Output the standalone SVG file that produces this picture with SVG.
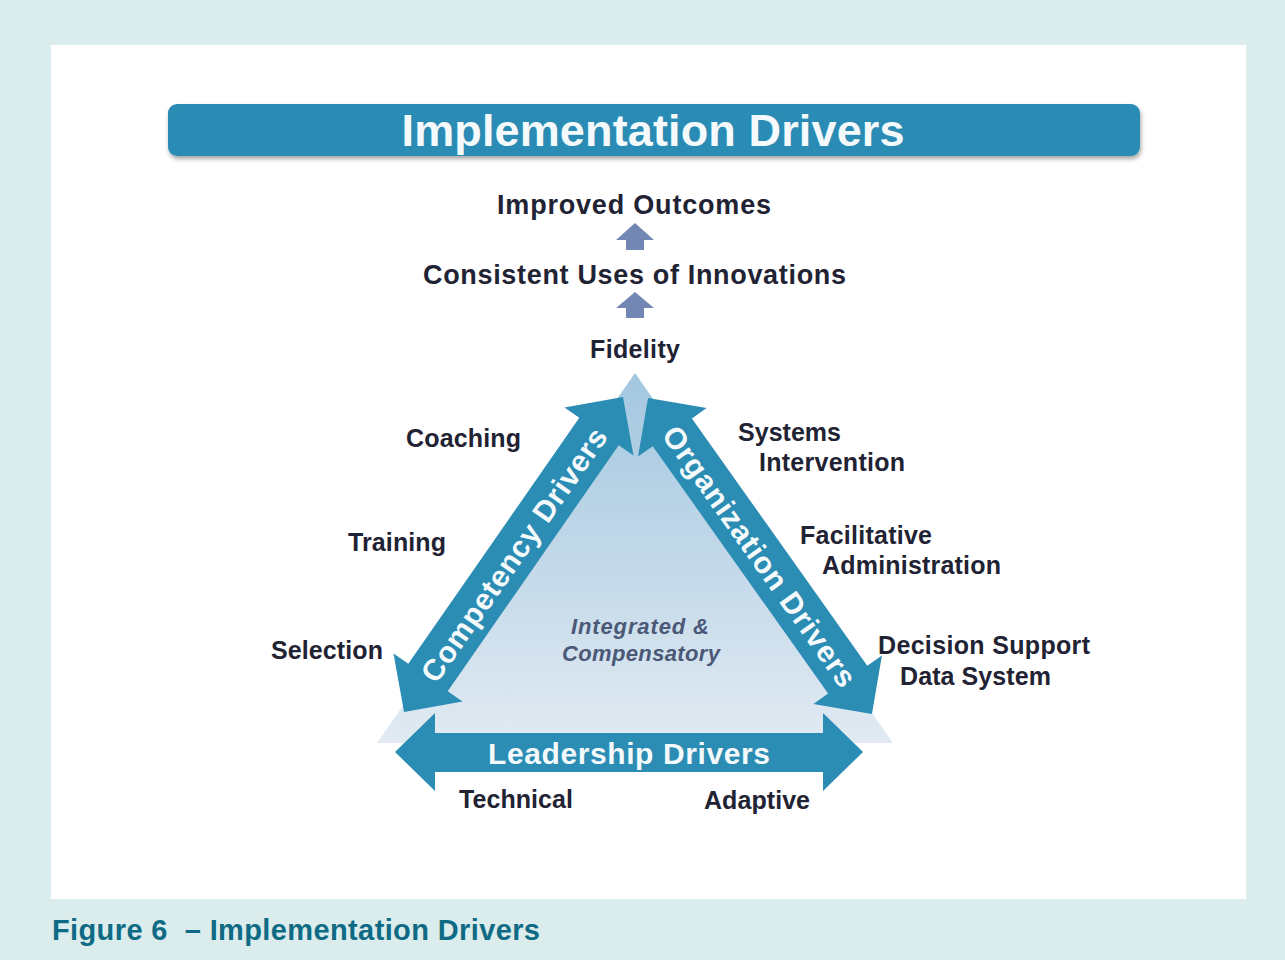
<svg xmlns="http://www.w3.org/2000/svg" width="1285" height="960" viewBox="0 0 1285 960">
  <defs>
    <linearGradient id="triGrad" gradientUnits="userSpaceOnUse" x1="0" y1="373" x2="0" y2="743">
      <stop offset="0" stop-color="#a3c7e0"/>
      <stop offset="1" stop-color="#e1eaf2"/>
    </linearGradient>
    <filter id="shadow" x="-5%" y="-30%" width="110%" height="180%">
      <feDropShadow dx="1" dy="3" stdDeviation="2" flood-color="#000" flood-opacity="0.35"/>
    </filter>
  </defs>
  <style>
    .lbl { font-family: "Liberation Sans", Arial, sans-serif; font-weight: bold; font-size: 25px; fill: #1f2333; }
    .big { font-family: "Liberation Sans", Arial, sans-serif; font-weight: bold; font-size: 27px; fill: #1f2333; text-anchor: middle; }
    .white { font-family: "Liberation Sans", Arial, sans-serif; font-weight: bold; fill: #f4f9fb; text-anchor: middle; }
    .ital { font-family: "Liberation Sans", Arial, sans-serif; font-weight: bold; font-style: italic; font-size: 22px; fill: #4b5877; }
    .arrow { fill: #2b8cb4; }
    .up { fill: #7287b3; }
  </style>

  <!-- background -->
  <rect x="0" y="0" width="1285" height="960" fill="#dbecec"/>
  <rect x="51" y="45" width="1195" height="854" fill="#ffffff"/>

  <!-- title bar -->
  <g id="title">
    <rect x="168" y="104" width="972" height="52" rx="9" ry="9" fill="#2b8cb4" filter="url(#shadow)"/>
    <text x="653" y="146" class="white" font-size="45" textLength="503">Implementation Drivers</text>
  </g>

  <!-- outcome chain -->
  <g id="improved-outcomes">
    <text x="634" y="214" class="big" textLength="274">Improved Outcomes</text>
  </g>
  <g id="consistent-uses">
    <text x="634.5" y="284" class="big" textLength="423">Consistent Uses of Innovations</text>
  </g>
  <g id="fidelity">
    <text x="635" y="358" class="lbl" text-anchor="middle" textLength="90">Fidelity</text>
  </g>

  <!-- connectors (up arrows) -->
  <g id="connectors">
    <polygon class="up" points="635,223 654,240 644,240 644,250 626,250 626,240 616,240"/>
    <polygon class="up" points="635,292 654,308 644,308 644,318 626,318 626,308 616,308"/>
  </g>

  <!-- central triangle -->
  <g id="triangle">
    <polygon points="635,373 893,743 377,743" fill="url(#triGrad)"/>
    <text x="571" y="634" class="ital" textLength="138">Integrated  &amp;</text>
    <text x="562" y="661" class="ital" textLength="158">Compensatory</text>
  </g>

  <!-- competency drivers arrow -->
  <g id="competency-drivers" transform="translate(513.5 554.5) rotate(-55.2)">
    <polygon class="arrow" points="-191.8,0 -149.8,-42 -149.8,-24 149.8,-24 149.8,-42 191.8,0 149.8,42 149.8,24 -149.8,24 -149.8,42"/>
    <text x="0" y="11" class="white" font-size="30" textLength="302">Competency Drivers</text>
  </g>

  <!-- organization drivers arrow -->
  <g id="organization-drivers" transform="translate(760 556) rotate(54.67)">
    <polygon class="arrow" points="-193.6,0 -151.6,-42 -151.6,-24 151.6,-24 151.6,-42 193.6,0 151.6,42 151.6,24 -151.6,24 -151.6,42"/>
    <text x="0" y="11" class="white" font-size="30" textLength="312">Organization Drivers</text>
  </g>

  <!-- leadership drivers arrow -->
  <g id="leadership-drivers">
    <polygon class="arrow" points="395,752 435,713 435,733 823,733 823,713 863,752 823,791 823,772 435,772 435,791"/>
    <text x="629" y="764" class="white" font-size="30" textLength="282">Leadership Drivers</text>
  </g>

  <!-- competency labels -->
  <g id="coaching"><text x="406" y="447" class="lbl" textLength="115">Coaching</text></g>
  <g id="training"><text x="348" y="551" class="lbl" textLength="98">Training</text></g>
  <g id="selection"><text x="271" y="659" class="lbl" textLength="112">Selection</text></g>

  <!-- organization labels -->
  <g id="systems-intervention">
    <text x="738" y="441" class="lbl" textLength="103">Systems</text>
    <text x="759" y="471" class="lbl" textLength="146">Intervention</text>
  </g>
  <g id="facilitative-administration">
    <text x="800" y="544" class="lbl" textLength="132">Facilitative</text>
    <text x="822" y="574" class="lbl" textLength="179">Administration</text>
  </g>
  <g id="decision-support">
    <text x="878" y="654" class="lbl" textLength="212">Decision Support</text>
    <text x="900" y="685" class="lbl" textLength="151">Data System</text>
  </g>

  <!-- leadership labels -->
  <g id="technical"><text x="459" y="808" class="lbl" textLength="114">Technical</text></g>
  <g id="adaptive"><text x="704" y="809" class="lbl" textLength="106">Adaptive</text></g>

  <!-- caption -->
  <g id="caption">
    <text x="52" y="940" font-family="'Liberation Sans', Arial, sans-serif" font-weight="bold" font-size="29" fill="#0f6b85" textLength="488">Figure 6&#160; – Implementation Drivers</text>
  </g>
</svg>
